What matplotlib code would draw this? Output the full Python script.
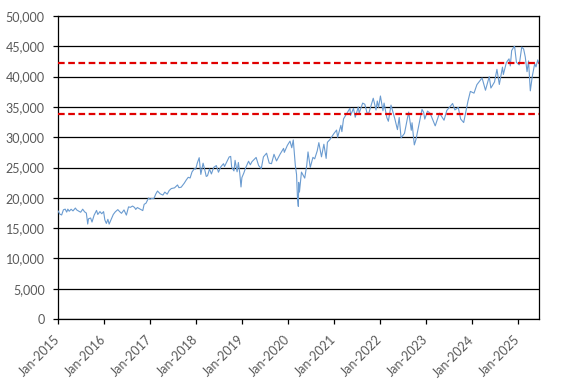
import matplotlib
matplotlib.use("Agg")
import matplotlib.pyplot as plt
import matplotlib.dates as mdates
import matplotlib.ticker as mticker
import numpy as np
import pandas as pd

dates = [
"2015-01-02","2015-01-15","2015-01-30","2015-02-13","2015-02-27","2015-03-11","2015-03-20","2015-03-31",
"2015-04-15","2015-04-30","2015-05-19","2015-05-29","2015-06-15","2015-06-30","2015-07-16","2015-07-31",
"2015-08-14","2015-08-25","2015-08-31","2015-09-17","2015-09-28","2015-10-15","2015-11-03","2015-11-13",
"2015-11-30","2015-12-14","2015-12-29","2016-01-08","2016-01-20","2016-02-01","2016-02-11","2016-02-29",
"2016-03-15","2016-03-31","2016-04-20","2016-05-03","2016-05-19","2016-06-08","2016-06-27","2016-07-14",
"2016-07-29","2016-08-15","2016-08-31","2016-09-09","2016-09-22","2016-10-14","2016-11-04","2016-11-15",
"2016-11-30","2016-12-20","2016-12-30","2017-01-13","2017-01-31","2017-02-15","2017-03-01","2017-03-22",
"2017-04-13","2017-04-28","2017-05-17","2017-06-02","2017-06-19","2017-07-14","2017-08-07","2017-08-18",
"2017-09-05","2017-09-29","2017-10-16","2017-10-31","2017-11-15","2017-11-30","2017-12-18","2017-12-29",
"2018-01-12","2018-01-26","2018-02-08","2018-02-26","2018-03-08","2018-03-23","2018-04-02","2018-04-18",
"2018-05-03","2018-05-21","2018-06-11","2018-06-28","2018-07-17","2018-08-07","2018-08-15","2018-09-21",
"2018-10-03","2018-10-11","2018-10-29","2018-11-07","2018-11-23","2018-12-03","2018-12-14","2018-12-24",
"2018-12-31","2019-01-15","2019-01-31","2019-02-22","2019-03-08","2019-03-21","2019-04-23","2019-05-13",
"2019-06-03","2019-06-20","2019-07-15","2019-08-05","2019-08-23","2019-09-12","2019-10-02","2019-10-30",
"2019-11-27","2019-12-03","2019-12-27","2020-01-17","2020-01-31","2020-02-12","2020-02-28","2020-03-09",
"2020-03-16","2020-03-23","2020-03-26","2020-04-01","2020-04-17","2020-05-13","2020-05-29","2020-06-08",
"2020-06-26","2020-07-17","2020-07-31","2020-08-20","2020-09-02","2020-09-23","2020-10-12","2020-10-30",
"2020-11-09","2020-11-30","2020-12-16","2020-12-31","2021-01-21","2021-01-29","2021-02-24","2021-03-04",
"2021-03-17","2021-04-15","2021-05-07","2021-05-12","2021-06-04","2021-06-18","2021-07-12","2021-07-19",
"2021-08-16","2021-09-02","2021-09-20","2021-10-04","2021-11-08","2021-11-30","2021-12-10","2021-12-20",
"2022-01-04","2022-01-24","2022-02-02","2022-02-24","2022-03-08","2022-03-29","2022-04-12","2022-04-29",
"2022-05-19","2022-06-02","2022-06-17","2022-07-14","2022-08-16","2022-09-06","2022-09-12","2022-09-30",
"2022-10-13","2022-11-30","2022-12-13","2022-12-22","2023-01-13","2023-02-03","2023-02-28","2023-03-15",
"2023-04-18","2023-05-24","2023-06-15","2023-07-31","2023-08-18","2023-09-14","2023-10-03","2023-10-27",
"2023-11-30","2023-12-19","2024-01-17","2024-02-09","2024-03-21","2024-04-17","2024-05-17","2024-05-30",
"2024-06-28","2024-07-17","2024-08-05","2024-08-30","2024-09-06","2024-09-30","2024-10-21","2024-10-31",
"2024-11-11","2024-11-29","2024-12-04","2024-12-19","2025-01-10","2025-01-30","2025-02-14","2025-02-27",
"2025-03-13","2025-03-25","2025-04-08","2025-04-24","2025-05-13","2025-05-23","2025-06-06","2025-06-13",
"2025-06-16",
]
values = [
17830,17320,17165,18020,18130,17640,18130,17780,
18110,17840,18310,18010,17790,17620,18120,17690,
17480,15670,16530,16670,16000,17140,17920,17250,
17720,17370,17720,16350,15770,16450,15660,16520,
17250,17685,18050,17750,17440,18000,17140,18500,
18430,18640,18400,18085,18390,18140,17890,18920,
19120,19970,19760,19890,19860,20610,21115,20660,
20450,20940,20600,21210,21530,21640,22120,21670,
21750,22400,22960,23380,23270,24270,24790,24720,
25800,26620,23860,25710,24900,23530,23640,24750,
23930,25010,25320,24220,25120,25630,25160,26740,
26830,25050,24440,26180,24290,25830,24100,21790,
23330,24070,25000,26030,25450,25960,26660,25320,
24820,26750,27360,25720,25630,27180,26080,27190,
28160,27500,28650,29350,28260,29550,25410,23850,
20190,18590,22550,20940,24240,23250,25380,27570,
25020,26670,26430,27740,29100,26760,28840,26500,
29160,29640,30150,30610,31180,29980,31960,30920,
33020,34040,34780,33590,34760,33290,34990,33960,
35630,35440,33970,34000,36430,34480,35970,34930,
36800,34360,35630,33220,32630,35290,34220,32980,
31250,33250,29890,30630,34150,31140,32380,28730,
29600,34590,34110,32990,34300,33930,32660,31870,
33980,32800,34410,35560,34500,34910,33000,32420,
35950,37560,37270,38670,39780,37750,40000,38110,
39120,41200,38700,41560,40350,42330,42930,41760,
44290,44910,45010,42340,41940,44880,44550,43240,
40810,42590,37650,40090,42140,41600,42760,42200,
42520,
]
ref_levels = [42300, 33750]
year_ticks = list(range(2015, 2026))
y_ticks = list(range(0, 50001, 5000))

plt.rcParams['font.family'] = ['Lato', 'DejaVu Sans']

fig = plt.figure(figsize=(5.67, 3.83), dpi=100)
ax = fig.add_axes([58/567, 1-319/383, (539-58)/567, (319-16)/383])

x = pd.to_datetime(dates)
ax.plot(x, values, color='#6A9BD0', lw=0.8, zorder=3)
for lv in ref_levels:
    ax.axhline(lv, color='#E00000', lw=1.6, ls=(0, (3, 1.6)), zorder=4)

ax.set_ylim(0, 50000)
ax.set_xlim(pd.Timestamp("2015-01-01"), x[-1])
ax.set_yticks(y_ticks)
ax.yaxis.set_major_formatter(mticker.FuncFormatter(lambda v, p: f"{int(v):,}"))
ax.set_xticks([pd.Timestamp(f"{y}-01-01") for y in year_ticks])
ax.xaxis.set_major_formatter(mdates.DateFormatter("%b-%Y"))
ax.grid(axis='y', color='black', lw=0.9, zorder=1)
for s in ax.spines.values():
    s.set_color('black')
    s.set_linewidth(0.9)
ax.tick_params(axis='both', direction='out', length=3.5, width=0.9, color='black',
               labelcolor='#595959', labelsize=9)
ax.tick_params(axis='y', pad=6)
ax.tick_params(axis='x', pad=10)
plt.setp(ax.get_xticklabels(), rotation=45, ha='right', va='center', rotation_mode='anchor')

fig.savefig("out.png", dpi=100, facecolor='white')
